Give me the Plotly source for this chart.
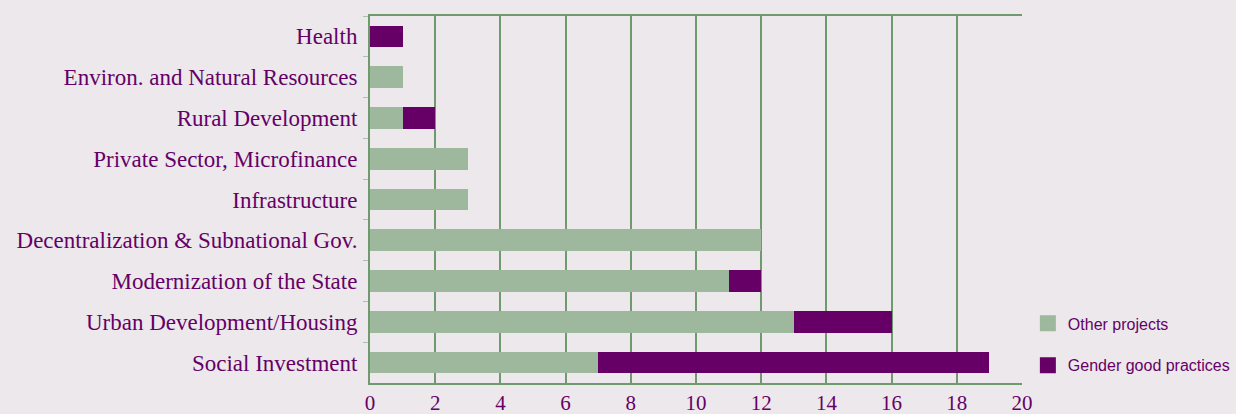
import plotly.graph_objects as go

categories = ["Health", "Environ. and Natural Resources", "Rural Development",
              "Private Sector, Microfinance", "Infrastructure",
              "Decentralization & Subnational Gov.", "Modernization of the State",
              "Urban Development/Housing", "Social Investment"]
other_projects = [0, 1, 1, 3, 3, 12, 11, 13, 7]
gender_practices = [1, 0, 1, 0, 0, 0, 1, 3, 12]
x_ticks = [0, 2, 4, 6, 8, 10, 12, 14, 16, 18, 20]
series_names = ["Other projects", "Gender good practices"]

BG = "#ECE8EC"
PURPLE = "#660066"
GREEN = "#9DB89D"
GRID = "#6E9A6E"

fig = go.Figure()
fig.add_trace(go.Bar(y=categories, x=other_projects, orientation="h",
                     name=series_names[0], marker=dict(color=GREEN, line=dict(width=0)),
                     showlegend=False))
fig.add_trace(go.Bar(y=categories, x=gender_practices, orientation="h",
                     name=series_names[1], marker=dict(color=PURPLE, line=dict(width=0)),
                     showlegend=False))
# legend entries with larger square swatches
for nm, col, grp in [(series_names[0], GREEN, "a"), (series_names[1], PURPLE, "b")]:
    fig.add_trace(go.Scatter(x=[None], y=[None], mode="markers", name=nm,
                             marker=dict(symbol="square", size=16, color=col),
                             legendgroup=grp, hoverinfo="skip"))

fig.update_layout(
    barmode="stack",
    bargap=0.47,
    width=1236, height=414,
    margin=dict(l=370, r=214, t=16, b=31, autoexpand=False),
    paper_bgcolor=BG, plot_bgcolor=BG,
    font=dict(family="Liberation Serif", color=PURPLE, size=23),
    legend=dict(x=1.009, y=0.105, xanchor="left", yanchor="middle",
                traceorder="grouped", tracegroupgap=18,
                font=dict(family="Liberation Sans", size=16, color=PURPLE),
                bgcolor="rgba(0,0,0,0)", itemwidth=30),
    xaxis=dict(range=[0, 20], tickvals=x_ticks, showgrid=True, gridcolor=GRID, gridwidth=2,
               zeroline=False, showline=True, linecolor=GRID, linewidth=2, mirror=True,
               automargin=False,
               tickfont=dict(family="Liberation Serif", size=21, color=PURPLE), ticks=""),
    yaxis=dict(categoryorder="array", categoryarray=categories, autorange="reversed",
               showline=True, linecolor=GRID, linewidth=2, automargin=False,
               ticks="outside", tickson="boundaries", ticklen=5, tickcolor="#A9C0A9",
               ticklabelstandoff=6,
               tickfont=dict(family="Liberation Serif", size=23, color=PURPLE),
               showgrid=False),
)

fig.write_html("out.html", config={"displayModeBar": False},
               post_script="document.body.style.margin='0';document.body.style.background='%s';" % BG)
